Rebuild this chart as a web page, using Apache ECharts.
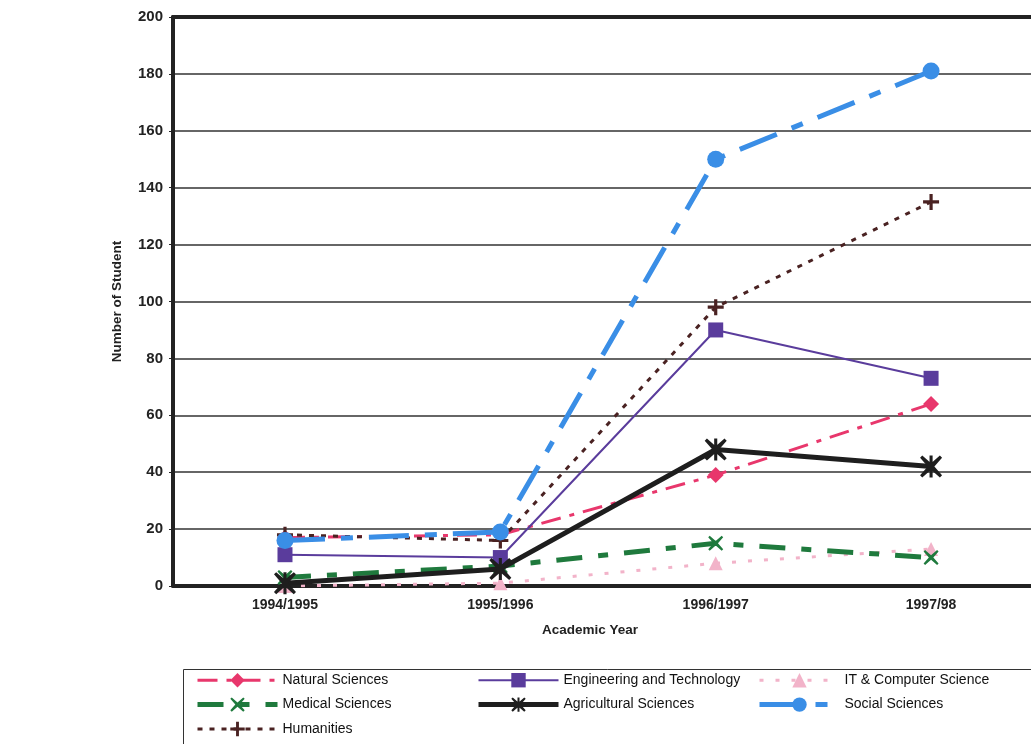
<!DOCTYPE html>
<html>
<head>
<meta charset="utf-8">
<script src="https://cdn.jsdelivr.net/npm/echarts@6/dist/echarts.min.js"></script>
<style>
  html, body { margin: 0; padding: 0; background: #fff; }
  #chart { width: 1031px; height: 744px; }
</style>
</head>
<body>
<div id="chart"></div>
<script>
// Academic years on the x axis
const years = ['1994/1995', '1995/1996', '1996/1997', '1997/98'];

// Number of students per field of study
const naturalSciences     = [17, 18, 39, 64];
const engineeringTech     = [11, 10, 90, 73];
const itComputerScience   = [0, 1, 8, 13];
const medicalSciences     = [3, 7, 15, 10];
const agriculturalSci     = [1, 6, 48, 42];
const socialSciences      = [16, 19, 150, 181];
const humanities          = [18, 16, 98, 135];

// Y axis ticks
const yTicks = [0, 20, 40, 60, 80, 100, 120, 140, 160, 180, 200];

const FONT = 'Liberation Sans, Arial, sans-serif';

// Year slots run from -0.52 to 3.46 so the plot area runs past the right edge
const X_MIN = -0.52, X_MAX = 3.464;

// Filled marker shapes
const SYM_X = 'path://M1,0 L5,3.5 L9,0 L10,1 L6.5,5 L10,9 L9,10 L5,6.5 L1,10 L0,9 L3.5,5 L0,1 Z';
const SYM_PLUS = 'path://M4,0 L6,0 L6,4 L10,4 L10,6 L6,6 L6,10 L4,10 L4,6 L0,6 L0,4 L4,4 Z';
const SYM_STAR = 'path://M1,0 L5,3.5 L9,0 L10,1 L6.5,5 L10,9 L9,10 L5,6.5 L1,10 L0,9 L3.5,5 L0,1 Z M4.3,0 L5.7,0 L5.7,10 L4.3,10 Z';

function lineSeries(name, values, color, width, dash, symbol, size, z) {
  return {
    name, type: 'line',
    xAxisIndex: 0,
    data: values.map((v, i) => [i, v]),
    symbol, symbolSize: size,
    showAllSymbol: true,
    z: z,
    lineStyle: { color, width, type: dash },
    itemStyle: { color, borderWidth: 0 },
    emphasis: { disabled: true }
  };
}

const series = [
  lineSeries('IT & Computer Science', itComputerScience, '#f2b3c9', 3, [4, 12], 'triangle', 14, 2),
  lineSeries('Medical Sciences', medicalSciences, '#1f7a3d', 5, [26, 16, 10, 16], SYM_X, 15, 3),
  lineSeries('Natural Sciences', naturalSciences, '#e8376c', 3, [20, 9, 5, 9], 'diamond', 16, 4),
  lineSeries('Humanities', humanities, '#4a2222', 3, [5, 7], SYM_PLUS, 16, 5),
  lineSeries('Engineering and Technology', engineeringTech, '#5a3c9c', 2, 'solid', 'rect', 15, 6),
  lineSeries('Social Sciences', socialSciences, '#3a8ee6', 5, [40, 16, 12, 16], 'circle', 17, 7),
  lineSeries('Agricultural Sciences', agriculturalSci, '#1e1e1e', 5, 'solid', SYM_STAR, 22, 8)
];

function legendColumn(left, names) {
  return {
    orient: 'vertical',
    left: left, top: 668,
    itemWidth: 80, itemHeight: 18, itemGap: 10,
    selectedMode: false,
    data: names,
    lineStyle: { width: 'inherit' },
    textStyle: { fontFamily: FONT, fontSize: 14, color: '#111' }
  };
}

const chart = echarts.init(document.getElementById('chart'), null, { renderer: 'canvas' });
chart.setOption({
  backgroundColor: '#ffffff',
  animation: false,
  grid: { left: 173, top: 17, right: 0, bottom: 158, show: false },
  xAxis: [{
    type: 'value',
    min: X_MIN, max: X_MAX,
    position: 'bottom',
    name: 'Academic Year',
    nameLocation: 'middle',
    nameGap: 37,
    nameTextStyle: { fontFamily: FONT, fontSize: 13.5, fontWeight: 'bold', color: '#222', padding: [0, 24, 0, 0] },
    axisLine: { show: true, onZero: false, lineStyle: { color: '#222', width: 4 } },
    axisTick: { show: false },
    axisLabel: {
      customValues: [0, 1, 2, 3],
      formatter: v => years[Math.round(v)],
      fontFamily: FONT, fontSize: 14, fontWeight: 'bold', color: '#222', margin: 12
    },
    splitLine: { show: false }
  }, {
    // heavy frame line along the top of the plot
    type: 'value',
    min: X_MIN, max: X_MAX,
    position: 'top',
    axisLine: { show: true, onZero: false, lineStyle: { color: '#222', width: 4 } },
    axisTick: { show: false },
    axisLabel: { show: false },
    splitLine: { show: false }
  }],
  yAxis: {
    type: 'value',
    min: yTicks[0], max: yTicks[yTicks.length - 1], interval: 20,
    name: 'Number of Student',
    nameLocation: 'middle',
    nameGap: 49,
    nameTextStyle: { fontFamily: FONT, fontSize: 13.5, fontWeight: 'bold', color: '#222' },
    axisLine: { show: true, onZero: false, lineStyle: { color: '#222', width: 4 } },
    axisTick: { show: true, length: 4, lineStyle: { color: '#222', width: 1 } },
    axisLabel: { fontFamily: FONT, fontSize: 15, fontWeight: 'bold', color: '#222', margin: 10 },
    splitLine: { show: true, lineStyle: { color: '#333', width: 1.5 } }
  },
  legend: [
    legendColumn(190, ['Natural Sciences', 'Medical Sciences', 'Humanities']),
    legendColumn(471, ['Engineering and Technology', 'Agricultural Sciences']),
    legendColumn(752, ['IT & Computer Science', 'Social Sciences'])
  ],
  graphic: [{
    type: 'rect',
    shape: { x: 183.5, y: 669.5, width: 900, height: 100 },
    style: { fill: 'none', stroke: '#333', lineWidth: 1 },
    z: -1
  }],
  series
});
</script>
</body>
</html>
